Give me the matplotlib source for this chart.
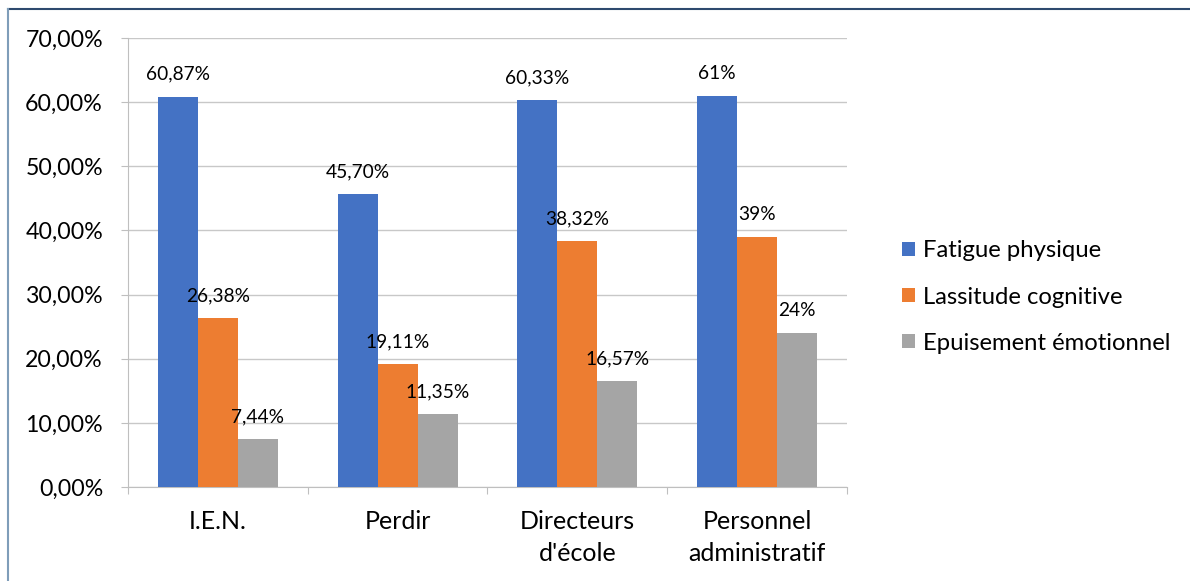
import numpy as np
import matplotlib
matplotlib.use('Agg')
import matplotlib.pyplot as plt
from matplotlib.lines import Line2D
from matplotlib.patches import Patch
from matplotlib.ticker import FuncFormatter, MultipleLocator

### Data
categories = ['I.E.N.', 'Perdir', "Directeurs\nd'école", 'Personnel\nadministratif']
series_names = ['Fatigue physique', 'Lassitude cognitive', 'Epuisement émotionnel']
fatigue = [60.87, 45.70, 60.33, 61.0]
lassitude = [26.38, 19.11, 38.32, 39.0]
epuisement = [7.44, 11.35, 16.57, 24.0]
labels_fatigue = ['60,87%', '45,70%', '60,33%', '61%']
labels_lassitude = ['26,38%', '19,11%', '38,32%', '39%']
labels_epuisement = ['7,44%', '11,35%', '16,57%', '24%']

colors = ['#4472C4', '#ED7D31', '#A5A5A5']
plt.rcParams['font.family'] = ['Lato', 'DejaVu Sans']

fig = plt.figure(figsize=(11.9, 5.81), dpi=100)
ax = fig.add_axes([128/1190, 1-487/581, (847-128)/1190, (487-38)/581])

x = np.arange(len(categories))
wd = 0.2225
all_vals = [fatigue, lassitude, epuisement]
all_labs = [labels_fatigue, labels_lassitude, labels_epuisement]
for i, (vals, labs) in enumerate(zip(all_vals, all_labs)):
    pos = x + (i-1)*wd
    ax.bar(pos, vals, width=wd, color=colors[i], zorder=3, label=series_names[i])
    for px, v, lb in zip(pos, vals, labs):
        ax.annotate(lb, (px, v), xytext=(0, 16), textcoords='offset points',
                    ha='center', va='center', fontsize=13.8, color='#000000', zorder=4)

ax.set_xlim(-0.5, len(categories)-0.5)
ax.set_ylim(0, 70)
ax.yaxis.set_major_locator(MultipleLocator(10))
ax.yaxis.set_major_formatter(FuncFormatter(lambda v, p: '{:.2f}%'.format(v).replace('.', ',')))
ax.grid(axis='y', color='#C8C8C8', lw=1, zorder=0)
ax.set_axisbelow(True)

for s in ['top', 'right']:
    ax.spines[s].set_visible(False)
ax.spines['left'].set_color('#BFBFBF')
ax.spines['bottom'].set_color('#BFBFBF')
ax.tick_params(axis='y', length=5, color='#BFBFBF', pad=13, labelsize=16.7)
ax.set_xticks(np.arange(-0.5, len(categories)), minor=False)
ax.set_xticklabels([])
ax.set_xticks(x, minor=True)
ax.set_xticklabels(categories, minor=True, fontsize=18, linespacing=1.5)
ax.tick_params(axis='x', which='major', length=5, color='#BFBFBF')
ax.tick_params(axis='x', which='minor', length=0, pad=16.5)

handles = [Patch(facecolor=c, edgecolor='none') for c in colors]
fig.legend(handles, series_names, loc='center left', bbox_to_anchor=(890/1190, 1-297/581),
           frameon=False, fontsize=17.2, handlelength=0.55, handleheight=0.55,
           handletextpad=0.35, labelspacing=1.05, borderpad=0)

### chart border
fig.add_artist(Line2D([8/1190, 1], [1-9/581, 1-9/581], color='#2E4A6E', lw=1.5))
fig.add_artist(Line2D([8/1190, 8/1190], [0, 1-9/581], color='#7F9DB9', lw=1.5))

fig.savefig('out.png', dpi=100)
